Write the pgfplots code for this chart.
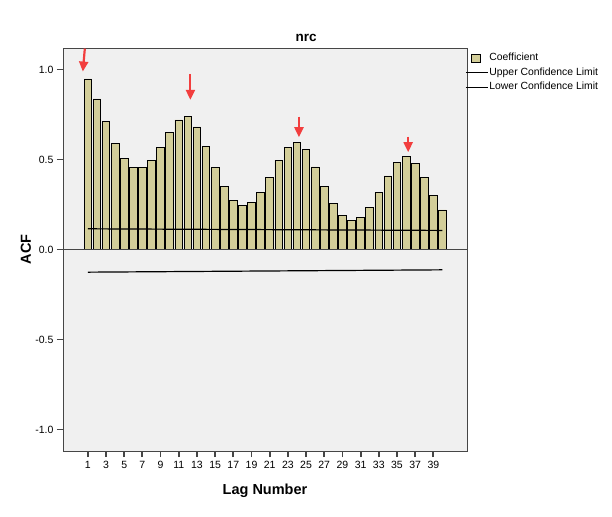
\documentclass[border=0pt]{standalone}
\usepackage{fontspec}
\setmainfont{Liberation Sans}
\usepackage{pgfplots}
\pgfplotsset{compat=1.18}
\usetikzlibrary{arrows.meta}
\definecolor{barfill}{RGB}{211,206,153}
\definecolor{plotbg}{RGB}{240,240,240}
\definecolor{arrowred}{RGB}{242,62,62}
\definecolor{framegray}{RGB}{70,70,70}
\pgfplotsset{
  boxlegend/.style={legend image code/.code={\draw[#1] (6pt,-4pt) rectangle (15pt,4pt);}},
  linelegend/.style={legend image code/.code={\draw[#1] (0pt,0pt) -- (22pt,0pt);}},
}

\begin{document}
\begin{tikzpicture}
\path[use as bounding box] (-63pt,-65pt) rectangle (549pt,451pt);
\begin{axis}[
  at={(0,0)}, anchor=south west,
  scale only axis, width=404pt, height=403pt,
  xmin=-1.73, xmax=42.7, ymin=-1.12, ymax=1.12,
  axis background/.style={fill=plotbg},
  axis line style={draw=framegray, line width=0.8pt},
  xtick={1,3,...,39},
  ytick={-1,-0.5,0,0.5,1},
  yticklabels={-1.0,-0.5,0.0,0.5,1.0},
  /pgf/number format/assume math mode=true,
  tick align=outside, major tick length=6pt,
  xtick pos=bottom, ytick pos=left,
  tick style={framegray, line width=1.8pt},
  tick label style={font=\fontsize{10.5}{12}\selectfont},
  xticklabel style={yshift=-1pt},
  title={nrc},
  title style={at={(0.6015,1)}, anchor=base, yshift=0pt, font=\bfseries\fontsize{13.5}{16}\selectfont},
  xlabel={Lag Number},
  xlabel style={at={(axis description cs:0.5,0)}, anchor=base, yshift=-43pt, font=\bfseries\fontsize{14.5}{17}\selectfont},
  ylabel={ACF},
  ylabel style={at={(axis description cs:0,0.5)}, anchor=center, yshift=37pt, font=\bfseries\fontsize{14.5}{17}\selectfont},
  legend style={at={(axis description cs:1,1)}, anchor=north west, xshift=-3pt, yshift=-3pt,
    draw=none, fill=none, font=\fontsize{10.4}{12}\selectfont, row sep=2.5pt,
    inner sep=1pt, nodes={inner sep=1pt, text height=7.5pt, text depth=2.5pt}},
  legend cell align=left,
]
\addplot[ybar, bar width=0.84, fill=barfill, draw=black, line width=0.8pt, boxlegend]
  coordinates {
  (1,0.948) (2,0.837) (3,0.711) (4,0.591) (5,0.504) (6,0.454) (7,0.454) (8,0.494)
  (9,0.565) (10,0.650) (11,0.720) (12,0.739) (13,0.681) (14,0.574) (15,0.454)
  (16,0.348) (17,0.274) (18,0.246) (19,0.261) (20,0.317) (21,0.402) (22,0.494)
  (23,0.569) (24,0.596) (25,0.554) (26,0.459) (27,0.352) (28,0.254) (29,0.187)
  (30,0.163) (31,0.178) (32,0.235) (33,0.317) (34,0.409) (35,0.485) (36,0.515)
  (37,0.478) (38,0.398) (39,0.302) (40,0.220)
  };
\addlegendentry{Coefficient}
\addplot[black, line width=1.2pt, linelegend]
  coordinates {(1,0.115) (40,0.106)};
\addlegendentry{Upper Confidence Limit}
\addplot[black, line width=1.2pt, linelegend]
  coordinates {(1,-0.126) (40,-0.113)};
\addlegendentry{Lower Confidence Limit}
% zero line
\addplot[framegray, line width=1.6pt, forget plot] coordinates {(-1.73,0) (42.7,0)};
% red arrows marking the seasonal peaks
\addplot[arrowred, line width=2.2pt, forget plot,
  -{Triangle[width=9pt,length=10pt]},
  quiver={u=\thisrow{u}, v=\thisrow{v}}]
  table {
  x     y     u      v
  0.67  1.117 -0.22  -0.128
  12.28 0.976 0      -0.144
  24.22 0.739 0      -0.115
  36.23 0.628 0      -0.087
  };
\end{axis}
\end{tikzpicture}
\end{document}
